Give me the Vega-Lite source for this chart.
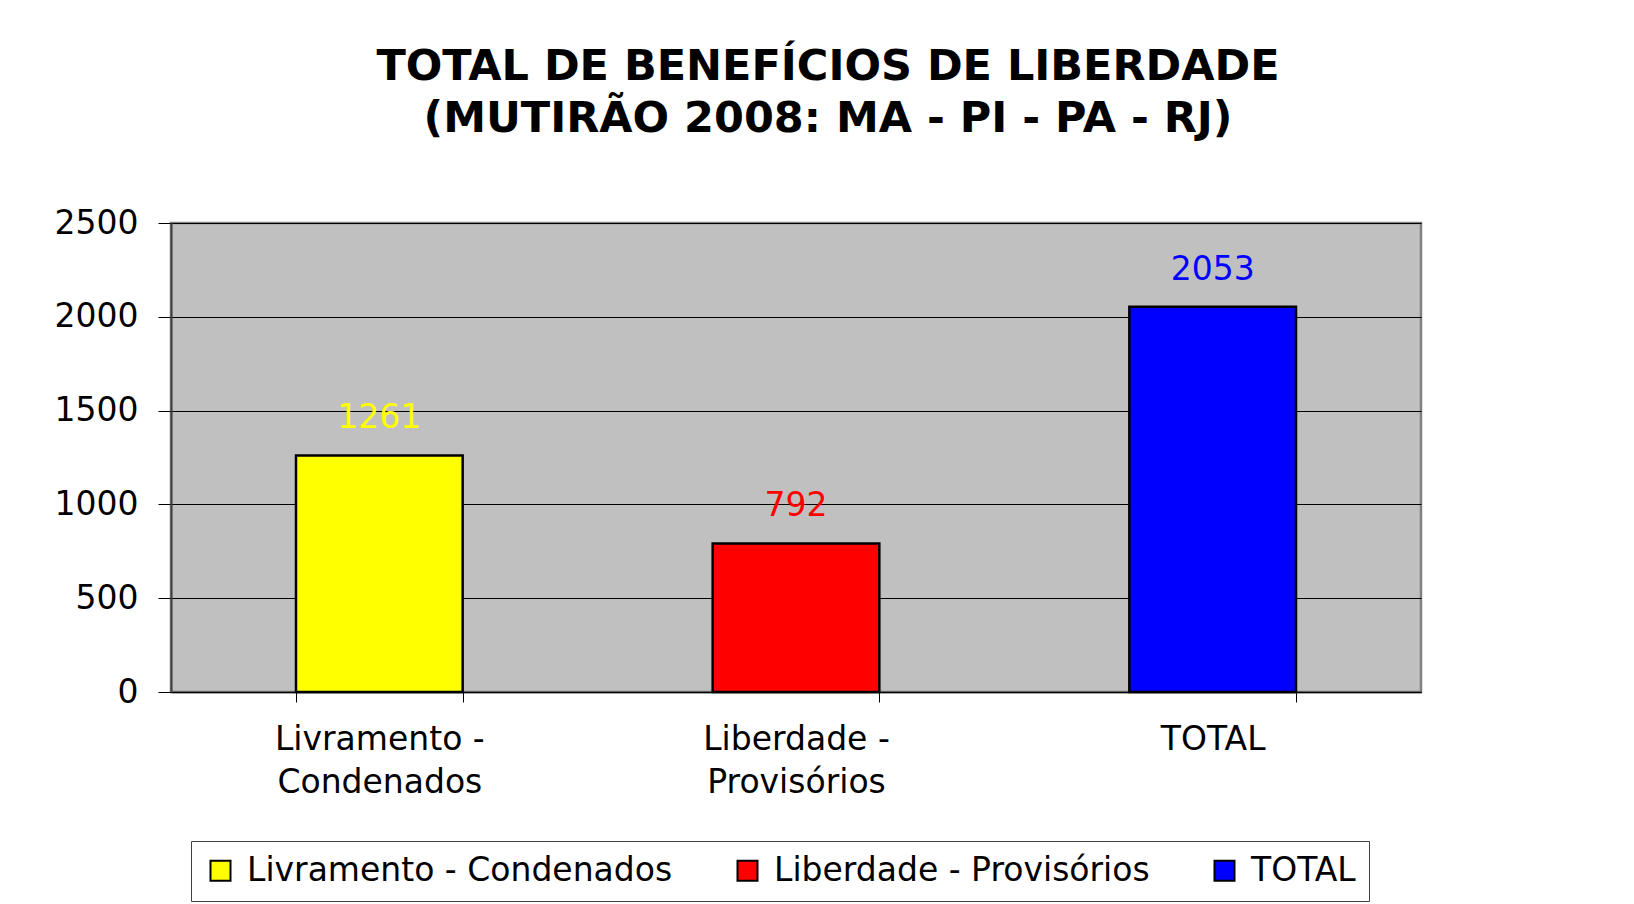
{
  "$schema": "https://vega.github.io/schema/vega-lite/v6.json",
  "width": 1250,
  "height": 469,
  "autosize": {"type": "none"},
  "padding": {"left": 171, "top": 223, "right": 213, "bottom": 212},
  "background": "white",
  "title": {
    "text": ["TOTAL DE BENEFÍCIOS DE LIBERDADE", "(MUTIRÃO 2008: MA - PI - PA - RJ)"],
    "font": "DejaVu Sans",
    "fontWeight": "bold",
    "fontSize": 43,
    "lineHeight": 52,
    "color": "black",
    "anchor": "middle",
    "frame": "group",
    "dx": 32,
    "offset": 66
  },
  "data": {
    "values": [
      {"categoria": "Livramento - Condenados", "valor": 1261},
      {"categoria": "Liberdade - Provisórios", "valor": 792},
      {"categoria": "TOTAL", "valor": 2053}
    ]
  },
  "encoding": {
    "x": {
      "field": "categoria",
      "type": "nominal",
      "sort": null,
      "scale": {"paddingInner": 0.6, "paddingOuter": 0.3},
      "axis": {
        "title": null,
        "labelAngle": 0,
        "labelFont": "DejaVu Sans",
        "labelFontSize": 33,
        "labelColor": "black",
        "labelLineHeight": 43,
        "labelPadding": 21,
        "labelLimit": 0,
        "labelExpr": "datum.label == 'TOTAL' ? 'TOTAL' : split(replace(datum.label, ' - ', ' -|'), '|')",
        "tickBand": "extent",
        "tickSize": 10,
        "tickColor": "black",
        "domainColor": "black",
        "domainWidth": 1.5,
        "grid": false
      }
    },
    "y": {
      "field": "valor",
      "type": "quantitative",
      "scale": {"domain": [0, 2500], "nice": false},
      "axis": {
        "title": null,
        "values": [0, 500, 1000, 1500, 2000, 2500],
        "format": "d",
        "labelFont": "DejaVu Sans",
        "labelFontSize": 33,
        "labelColor": "black",
        "labelPadding": 20,
        "tickSize": 13,
        "tickColor": "black",
        "domainColor": "#404040",
        "domainWidth": 2,
        "grid": true,
        "gridColor": "black",
        "gridWidth": 1
      }
    },
    "color": {
      "field": "categoria",
      "type": "nominal",
      "sort": null,
      "scale": {
        "domain": ["Livramento - Condenados", "Liberdade - Provisórios", "TOTAL"],
        "range": ["#FFFF00", "#FF0000", "#0000FF"]
      },
      "legend": {
        "title": null,
        "orient": "none",
        "legendX": 20,
        "legendY": 618,
        "direction": "horizontal",
        "labelFont": "DejaVu Sans",
        "labelFontSize": 33,
        "labelColor": "black",
        "labelLimit": 0,
        "symbolType": "square",
        "symbolSize": 400,
        "symbolStrokeColor": "black",
        "symbolStrokeWidth": 2,
        "labelOffset": 10,
        "columnPadding": 58,
        "padding": 13,
        "strokeColor": "#404040",
        "fillColor": "white"
      }
    }
  },
  "layer": [
    {
      "mark": {"type": "bar", "stroke": "black", "strokeWidth": 2.5}
    },
    {
      "mark": {"type": "text", "font": "DejaVu Sans", "fontSize": 33, "baseline": "middle", "dy": -37},
      "encoding": {"text": {"field": "valor", "type": "quantitative"}}
    }
  ],
  "config": {
    "view": {"fill": "#C0C0C0", "stroke": "#808080", "strokeWidth": 2.5}
  }
}
